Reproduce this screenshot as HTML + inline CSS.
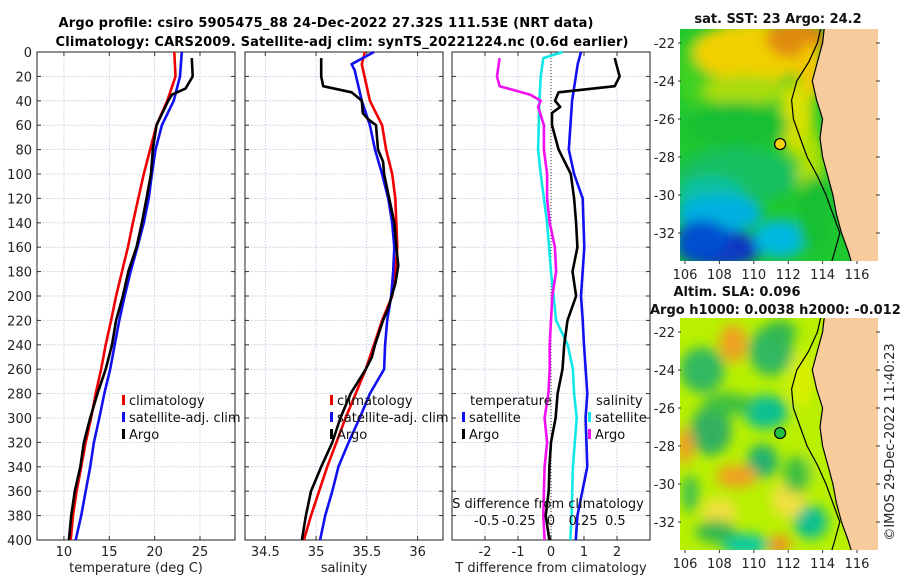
<!DOCTYPE html>
<html><head><meta charset="utf-8"><style>
html,body{margin:0;padding:0;background:#fff;}
svg{display:block;font-family:"DejaVu Sans","Liberation Sans",sans-serif;}
</style></head><body>
<svg id="c" width="900" height="580" viewBox="0 0 900 580" xmlns="http://www.w3.org/2000/svg">
<defs>
<filter id="bl" x="-20%" y="-20%" width="140%" height="140%"><feGaussianBlur stdDeviation="6"/></filter>
<clipPath id="clipTop"><rect x="680" y="29" width="198" height="232"/></clipPath>
<clipPath id="clipBot"><rect x="680" y="318" width="198" height="232"/></clipPath>
</defs>
<text x="326" y="27" text-anchor="middle" font-size="13" font-weight="bold" textLength="535">Argo profile: csiro 5905475_88 24-Dec-2022 27.32S 111.53E (NRT data)</text>
<text x="342" y="46" text-anchor="middle" font-size="13" font-weight="bold" textLength="573">Climatology: CARS2009. Satellite-adj clim: synTS_20221224.nc (0.6d earlier)</text>
<g id="plots"></g>
<g id="maps"></g>
</svg>
<script>
// ---- data ----
const depthTicks=[0,20,40,60,80,100,120,140,160,180,200,220,240,260,280,300,320,340,360,380,400];
const tempTicks=[10,15,20,25];
const salTicks=[34.5,35,35.5,36];
const tdiffTicks=[-2,-1,0,1,2];
const sdiffTickLabels=["-0.5","-0.25","0","0.25","0.5"];
const sdiffTicks=[-0.5,-0.25,0,0.25,0.5];
const climDepth=[0,20,40,60,80,100,120,140,160,180,200,220,240,260,280,300,320,340,360,380,400];
const climTemp=[22.17,22.3,21.4,20.2,19.5,18.8,18.2,17.6,17.05,16.4,15.75,15.2,14.6,14.1,13.5,13.0,12.4,11.9,11.4,11.0,10.75];
const satTemp=[23.0,22.8,22.1,20.8,20.1,19.7,19.35,18.8,18.1,17.35,16.7,16.1,15.6,15.1,14.45,13.9,13.3,12.9,12.4,11.9,11.3];
const argoDepth=[5,20,30,35,40,60,80,100,120,140,160,180,200,220,240,260,280,300,320,340,360,380,400];
const argoTemp=[24.1,24.2,23.4,21.9,21.5,20.2,19.8,19.6,19.1,18.6,18.0,17.1,16.5,15.75,15.3,14.6,13.7,12.9,12.2,11.8,11.2,10.8,10.55];
const climSalDepth=[0,10,40,60,80,100,120,140,160,180,200,220,240,260,280,300,320,340,360,380,400];
const climSal=[35.48,35.45,35.53,35.65,35.69,35.75,35.78,35.79,35.80,35.78,35.75,35.65,35.57,35.49,35.39,35.29,35.20,35.11,35.03,34.95,34.88];
const satSalDepth=[0,10,15,40,60,80,100,120,140,160,180,200,220,240,260,280,300,320,340,360,380,400];
const satSal=[35.57,35.35,35.38,35.45,35.53,35.58,35.65,35.71,35.75,35.77,35.76,35.74,35.70,35.68,35.67,35.53,35.43,35.32,35.22,35.16,35.09,35.04];
const argoSalDepth=[5,20,28,33,40,50,55,60,80,90,100,120,140,160,175,190,210,220,240,250,260,280,300,320,340,360,380,400];
const argoSal=[35.05,35.05,35.07,35.35,35.45,35.46,35.51,35.59,35.61,35.66,35.67,35.72,35.77,35.79,35.81,35.78,35.71,35.66,35.58,35.55,35.49,35.34,35.24,35.16,35.05,34.95,34.90,34.86];
const argoTdiffDepth=[5,20,28,33,40,45,50,60,80,100,120,140,160,180,200,220,240,260,280,300,320,340,360,380,400];
const argoTdiff=[1.93,2.08,1.93,0.23,0.12,0.28,0.03,0.03,0.23,0.6,0.7,0.76,0.8,0.65,0.76,0.5,0.4,0.35,0.2,0.14,0.0,-0.05,-0.07,-0.16,-0.05];
const satTdiffDepth=[0,10,40,80,100,120,160,200,220,240,280,300,340,380,400];
const satTdiff=[0.91,0.81,0.64,0.54,0.7,0.96,1.01,0.91,0.96,1.0,1.1,1.05,1.1,0.8,0.75];
const satSdiffDepth=[0,5,20,40,80,100,140,180,200,220,240,260,280,300,340,380,400];
const satSdiff=[0.09,-0.06,-0.08,-0.09,-0.1,-0.08,-0.03,0.0,0.02,0.04,0.13,0.17,0.18,0.2,0.17,0.16,0.15];
const argoSdiffDepth=[5,20,28,35,40,45,60,80,100,120,140,160,180,200,220,240,260,280,300,320,340,360,380,400];
const argoSdiff=[-0.4,-0.42,-0.4,-0.16,-0.08,-0.1,-0.055,-0.055,-0.03,-0.03,-0.01,0.03,0.04,0.01,0.0,-0.01,-0.01,-0.02,-0.05,-0.03,-0.05,-0.055,-0.06,-0.05];
const mapLatTicks=[-22,-24,-26,-28,-30,-32];
const mapLonTicks=[106,108,110,112,114,116];
const coastLat=[-21.2,-22,-23,-24,-25,-26,-27,-28,-29,-30,-31,-32,-33,-33.6];
const coastLon=[114.1,114.0,113.7,113.4,113.65,114.0,113.85,114.0,114.3,114.6,114.8,115.1,115.5,115.7];
const shelfLat=[-21.2,-22,-23,-24,-25,-26,-27,-28,-29,-30,-31,-32,-33,-33.6];
const shelfLon=[113.9,113.7,113.2,112.5,112.2,112.3,112.7,113.1,113.7,114.2,114.6,115.0,114.7,114.5];
const argoLon=111.53, argoLat=-27.32;

const NS="http://www.w3.org/2000/svg";
function mk(tag,attrs,parent){const e=document.createElementNS(NS,tag);for(const k in attrs)e.setAttribute(k,attrs[k]);parent.appendChild(e);return e;}
const plots=document.getElementById('plots');
const Y0=52,Y1=540;
function yD(d){return Y0+(d/400)*(Y1-Y0);}
function makePanel(name,x0,x1,xmin,xmax,ticks,tickLabels,xlabel){
  const g=mk('g',{},plots);
  
  
  const sx=v=>x0+(v-xmin)/(xmax-xmin)*(x1-x0);
  depthTicks.forEach(d=>{const l=mk('line',{x1:x0,x2:x1,y1:yD(d),y2:yD(d),stroke:'#b8c4dc','stroke-width':0.8,'stroke-dasharray':'1.5,1.5'},g);
    
    mk('line',{x1:x0,x2:x0+4,y1:yD(d),y2:yD(d),stroke:'#333'},g);mk('line',{x1:x1-4,x2:x1,y1:yD(d),y2:yD(d),stroke:'#333'},g);});
  ticks.forEach((v,i)=>{const x=sx(v);mk('line',{x1:x,x2:x,y1:Y0,y2:Y1,stroke:'#b8c4dc','stroke-width':0.8,'stroke-dasharray':'1.5,1.5'},g);
    mk('line',{x1:x,x2:x,y1:Y1-4,y2:Y1,stroke:'#333'},g);mk('line',{x1:x,x2:x,y1:Y0,y2:Y0+4,stroke:'#333'},g);
    if(tickLabels){const t=mk('text',{x:x,y:556,'text-anchor':'middle','font-size':13,fill:'#222'},g);t.textContent=tickLabels[i];
      }});
  const r=mk('rect',{x:x0,y:Y0,width:x1-x0,height:Y1-Y0,fill:'none',stroke:'#222','stroke-width':1},g);
  
  const xl=mk('text',{x:(x0+x1)/2,y:572,'text-anchor':'middle','font-size':13,fill:'#222'},g);xl.textContent=xlabel;
  
  return {g,sx};
}
function series(p,name,depths,vals,color){
  const pts=depths.map((d,i)=>p.sx(vals[i]).toFixed(1)+','+yD(d).toFixed(1)).join(' ');
  const pl=mk('polyline',{points:pts,fill:'none',stroke:color,'stroke-width':2.6,'stroke-linejoin':'round'},p.g);
  
  
}
function legendRow(g,x,y,color,label){
  mk('rect',{x:x,y:y-10,width:3,height:10,fill:color},g);
  const t=mk('text',{x:x+7,y:y,'font-size':13,fill:'#111'},g);t.textContent=label;
  
  
}
depthTicks.forEach(d=>{const t=mk('text',{x:32,y:yD(d)+5,'text-anchor':'end','font-size':13,fill:'#222'},plots);t.textContent=d;
  });

const p1=makePanel('temperature-panel',37,235,7.03,28.86,tempTicks,tempTicks.map(String),'temperature (deg C)');
series(p1,'temp-climatology-line',climDepth,climTemp,'#f00000');
series(p1,'temp-satellite-line',climDepth,satTemp,'#1010f0');
series(p1,'temp-argo-line',argoDepth,argoTemp,'#000');
legendRow(p1.g,122,405,'#f00000','climatology');legendRow(p1.g,122,422,'#1010f0','satellite-adj. clim');legendRow(p1.g,122,439,'#000','Argo');

const p2=makePanel('salinity-panel',245,443,34.30,36.25,salTicks,salTicks.map(String),'salinity');
series(p2,'sal-climatology-line',climSalDepth,climSal,'#f00000');
series(p2,'sal-satellite-line',satSalDepth,satSal,'#1010f0');
series(p2,'sal-argo-line',argoSalDepth,argoSal,'#000');
legendRow(p2.g,330,405,'#f00000','climatology');legendRow(p2.g,330,422,'#1010f0','satellite-adj. clim');legendRow(p2.g,330,439,'#000','Argo');

const p3=makePanel('difference-panel',452,650,-3,3,tdiffTicks,tdiffTicks.map(String),'T difference from climatology');
mk('line',{x1:p3.sx(0),x2:p3.sx(0),y1:Y0,y2:Y1,stroke:'#333','stroke-width':1,'stroke-dasharray':'1,2'},p3.g);
const p3s={g:p3.g,sx:v=>452+(v+0.77)/1.54*198};
series(p3s,'sdiff-satellite-line',satSdiffDepth,satSdiff,'#10e8e8');
series(p3s,'sdiff-argo-line',argoSdiffDepth,argoSdiff,'#f010f0');
series(p3,'tdiff-satellite-line',satTdiffDepth,satTdiff,'#1010f0');
series(p3,'tdiff-argo-line',argoTdiffDepth,argoTdiff,'#000');
{const t=mk('text',{x:470,y:405,'font-size':13,fill:'#111'},p3.g);t.textContent='temperature';
 const s=mk('text',{x:596,y:405,'font-size':13,fill:'#111'},p3.g);s.textContent='salinity';}
legendRow(p3.g,462,422,'#1010f0','satellite');legendRow(p3.g,462,439,'#000','Argo');
legendRow(p3.g,588,422,'#10e8e8','satellite');legendRow(p3.g,588,439,'#f010f0','Argo');
{const t=mk('text',{x:548,y:508,'text-anchor':'middle','font-size':13,fill:'#111'},p3.g);t.textContent='S difference from climatology';
 
 sdiffTicks.forEach((v,i)=>{const l=mk('text',{x:p3s.sx(v),y:525,'text-anchor':'middle','font-size':13,fill:'#111'},p3.g);l.textContent=sdiffTickLabels[i];
  });}

// ---- maps ----
const maps=document.getElementById('maps');
function makeMap(name,top,clip,blobs,base,dotFill){
  const g=mk('g',{},maps);
  
  
  const lx=lon=>685+(lon-106)*17.2;
  const ly=lat=>top+14+(-22-lat)*19;
  const inner=mk('g',{'clip-path':'url(#'+clip+')'},g);
  mk('rect',{x:680,y:top,width:198,height:232,fill:base},inner);
  const bg=mk('g',{filter:'url(#bl)'},inner);
  blobs.forEach(b=>mk('ellipse',{cx:lx(b[0]),cy:ly(b[1]),rx:b[2]*17.2,ry:b[3]*19,fill:b[4]},bg));
  let pts=coastLon.map((lo,i)=>lx(lo).toFixed(1)+','+ly(coastLat[i]).toFixed(1)).join(' ');
  pts+=' 880,'+(top+233)+' 880,'+(top-1);
  const land=mk('polygon',{points:pts,fill:'#f7cb9b',stroke:'#000','stroke-width':1.2},inner);
  
  const sh=mk('polyline',{points:shelfLon.map((lo,i)=>lx(lo).toFixed(1)+','+ly(shelfLat[i]).toFixed(1)).join(' '),fill:'none',stroke:'#000','stroke-width':1.2},inner);
  
  const dot=mk('circle',{cx:lx(argoLon),cy:ly(argoLat),r:5.5,fill:dotFill,stroke:'#000','stroke-width':1.2},g);
  
  mapLatTicks.forEach(la=>{const y=ly(la);mk('line',{x1:876,x2:880,y1:y,y2:y,stroke:'#333'},g);mk('line',{x1:678,x2:681,y1:y,y2:y,stroke:'#333'},g);
    const t=mk('text',{x:675,y:y+5,'text-anchor':'end','font-size':13,fill:'#222'},g);t.textContent=la;
    });
  mapLonTicks.forEach(lo=>{const x=lx(lo);mk('line',{x1:x,x2:x,y1:top+232,y2:top+235,stroke:'#333'},g);
    const t=mk('text',{x:x,y:top+250,'text-anchor':'middle','font-size':13,fill:'#222'},g);t.textContent=lo;
    });
  return g;
}
const sstBlobs=[[107,-23.5,1.6,2,'#40d020'],[110,-22.5,3.5,1.6,'#f0d000'],[112.5,-21.8,1.8,1,'#e08a10'],[113.3,-23.5,0.8,1.5,'#f0c800'],
 [109.5,-24.5,2.5,0.8,'#a8dc10'],[112.5,-26,1,2,'#d8e000'],[113.3,-28.5,0.8,2,'#b0e000'],[109,-26.3,3,1.2,'#18c030'],
 [109,-29,3.5,1.5,'#18c060'],[107.5,-30,2,1,'#10c0a0'],[108,-31,2.5,1,'#00b0e0'],[108,-32.8,2.5,1,'#0838c0'],[107,-32.3,1.5,1,'#0050d0'],
 [111.5,-32.3,1.5,1,'#00b8e0'],[113.5,-31,1,2,'#18c030']];
makeMap('sst-map',29,'clipTop',sstBlobs,'#20c830','#f4d010');
const slaBlobs=[[108.8,-22.6,0.8,1,'#f0a020'],[107,-24,1.3,1.2,'#30b860'],[111,-23,1.3,1.3,'#30b860'],[110.7,-26.2,1.3,0.9,'#10c090'],
 [107.5,-27.2,1.2,1.3,'#30b060'],[106,-28,0.5,1,'#f0a020'],[110.5,-28.8,0.9,0.9,'#20b070'],[109,-29.6,1.2,0.6,'#f0a020'],
 [106.3,-30.5,0.5,1,'#40c050'],[113.3,-32,1,0.9,'#10c090'],[109.5,-33.2,1.4,0.6,'#10c8a0'],[111.5,-33.2,0.6,0.5,'#f08a20'],
 [108,-31.5,1,0.8,'#f0e040'],[112,-30.8,1,1,'#f0e040'],[112.8,-24.5,0.8,1.5,'#d8f000'],[113.6,-27.5,0.7,2.5,'#b8f000'],
 [108.5,-25.8,1.5,0.6,'#40c040'],[111.5,-22,1,0.6,'#30b850'],[107.8,-32.5,1.2,0.6,'#30b850'],[112.5,-29.5,0.8,1,'#40c040']];
makeMap('sla-map',318,'clipBot',slaBlobs,'#b8f000','#20c040');
{const t=mk('text',{x:778,y:23,'text-anchor':'middle','font-size':13,'font-weight':'bold',fill:'#111'},maps);t.textContent='sat. SST: 23 Argo: 24.2';
 
 const a=mk('text',{x:737,y:296,'text-anchor':'middle','font-size':13,'font-weight':'bold',fill:'#111'},maps);a.textContent='Altim. SLA: 0.096';
 
 const b=mk('text',{x:650,y:314,'font-size':13,'font-weight':'bold',fill:'#111'},maps);b.textContent='Argo h1000: 0.0038 h2000: -0.012';
 
 const c=mk('text',{x:0,y:0,'text-anchor':'middle','font-size':13,fill:'#222',transform:'translate(894,442) rotate(-90)'},maps);c.textContent='©IMOS 29-Dec-2022 11:40:23';
 }
</script>
</body></html>
